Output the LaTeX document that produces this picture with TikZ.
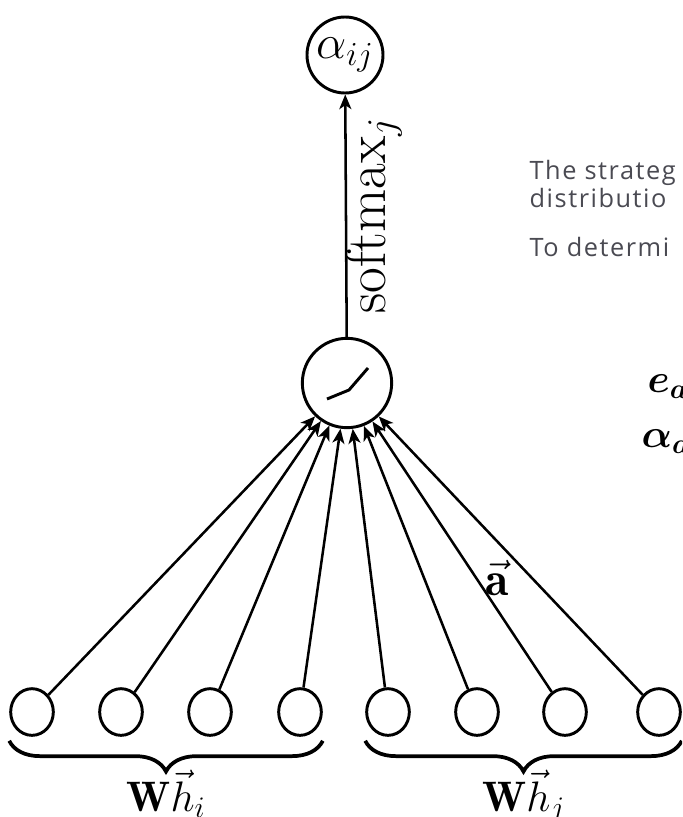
\RequirePackage{fix-cm}
\documentclass[tikz,border=0pt]{standalone}
\usepackage{amsmath, amssymb}
\usepackage{fontspec}
\newfontfamily\pagefont[LetterSpace = 6]{Open Sans}
\usepackage{tikz}
\usetikzlibrary{shapes.geometric,arrows.meta,decorations.pathreplacing,positioning}
\definecolor{pagegray}{HTML}{4A4A52}

\begin{document}
\begin{tikzpicture} [
      x = 0.75pt, y = -0.75pt,
      line width = 1.9pt,
      >={Stealth[length = 11pt, width = 9pt, inset = 3pt]},
      every node/.style = {font = \fontsize{36}{42}\selectfont},
      outnode/.style = {draw, circle, line width = 2.2pt, inner sep = 0, minimum width = 57pt},
      attnode/.style = {draw, circle, line width = 2.2pt, inner sep = 0, minimum width = 67pt},
      leaf/.style = {draw, ellipse, line width = 2.2pt, inner sep = 0, minimum width = 32pt, minimum height = 35pt},
      grp/.style = {decorate, decoration = {brace, mirror, amplitude = 23pt}, line width = 2.8pt},
      pagetext/.style = {anchor = base west, text = pagegray, font = \pagefont\fontsize{19}{23}\selectfont}
      ]

      \useasboundingbox (0,0) rectangle (682,817);
      \clip (0,0) rectangle (682,817);

      % text of the surrounding page, cut at the edge
      \node [pagetext] (line1) at (524,179) {The strateg};
      \node [pagetext] (line2) at (524,207) {distributio};
      \node [pagetext] (line3) at (524,256) {To determi};
      \node [anchor = base west, font = \fontsize{30}{34}\selectfont] (ea) at (642,392) {$\boldsymbol{e_a}$};
      \node [anchor = base west, font = \fontsize{30}{34}\selectfont] (aa) at (636,447) {$\boldsymbol{\alpha_a}$};

      \node [outnode] (alpha) at (345,55) {$\alpha_{ij}$};
      \node [attnode] (att) at (347,383) {};
      \draw [line width = 2.2pt, shift = {(att.center)}] (-20,16) -- (2,7) -- (21,-15);

      \draw [->] (att) -- node [midway, rotate = 90, anchor = north, yshift = 4pt, font = \fontsize{42}{48}\selectfont] (sm) {$\mathrm{softmax}_j$} (alpha);

      \node [leaf] (h1) at (32,712) {};
      \node [leaf] (h2) at (121,712) {};
      \node [leaf] (h3) at (210,712) {};
      \node [leaf] (h4) at (300,712) {};
      \node [leaf] (h5) at (388,712) {};
      \node [leaf] (h6) at (477,712) {};
      \node [leaf] (h7) at (565,712) {};
      \node [leaf] (h8) at (659,712) {};

      \draw [->] (h1) -- (att);
      \draw [->] (h2) -- (att);
      \draw [->] (h3) -- (att);
      \draw [->] (h4) -- (att);
      \draw [->] (h5) -- (att);
      \draw [->] (h6) -- (att);
      \draw [->] (h7) -- (att);
      \draw [->] (h8) -- (att);

      \node (avec) at (497,578) {$\vec{\mathbf{a}}$};

      \draw [grp] ([yshift = -3pt] h1.south -| h1.west) -- ([yshift = -3pt] h4.south -| h4.east)
        node [midway, anchor = base, yshift = -53pt, font = \fontsize{32}{38}\selectfont] (whi) {$\mathbf{W}\vec{h}_i$};
      \draw [grp] ([yshift = -3pt] h5.south -| h5.west) -- ([yshift = -3pt] h8.south -| h8.east)
        node [midway, anchor = base, yshift = -53pt, font = \fontsize{32}{38}\selectfont] (whj) {$\mathbf{W}\vec{h}_j$};
    \end{tikzpicture}
\end{document}
